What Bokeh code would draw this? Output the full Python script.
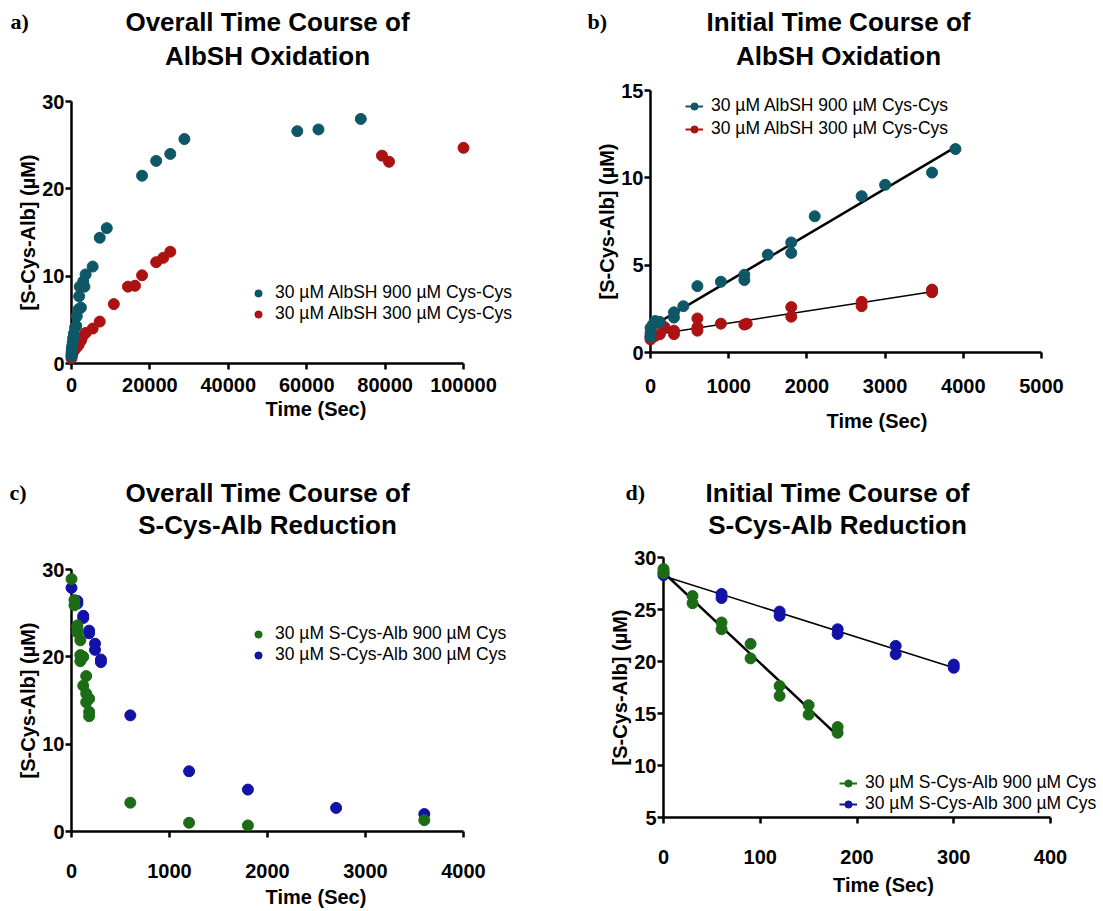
import numpy as np
from bokeh.plotting import figure
from bokeh.models import Range1d, FixedTicker, Legend, LegendItem, Label
from bokeh.layouts import column, row
from bokeh.embed import file_html
from bokeh.resources import INLINE

# ---------------- data ----------------
# a) overall time course of AlbSH oxidation
a_t_900 = [0, 0, 60, 120, 180, 300, 420, 600, 900, 1200, 1350, 1800, 2400, 1950, 2100, 3300, 3000, 3600,
           5400, 7200, 9000, 18000, 21600, 25200, 28800, 57600, 63000, 73800]
a_y_900 = [0.8, 1.1, 1.4, 1.7, 2.0, 2.4, 2.9, 3.4, 4.1, 4.3, 5.4, 6.2, 6.4, 7.7, 8.8, 8.8, 9.4, 10.2,
           11.1, 14.4, 15.5, 21.5, 23.2, 24.0, 25.7, 26.6, 26.8, 28.0]
a_t_300 = [0, 60, 300, 600, 1200, 1800, 2400, 2700, 3600, 5400, 7200, 10800, 14400, 16200, 18000,
           21600, 23400, 25200, 79200, 81000, 100000]
a_y_300 = [0.6, 0.9, 1.2, 1.5, 1.8, 2.1, 2.6, 3.0, 3.5, 4.0, 4.8, 6.8, 8.8, 8.9, 10.1,
           11.6, 12.1, 12.8, 23.8, 23.1, 24.7]

# b) initial time course of AlbSH oxidation
b_t_900 = [0, 0, 0, 30, 60, 90, 120, 300, 300, 420, 600, 900, 1200, 1200, 1500, 1800, 1800, 2100,
           2700, 3000, 3600, 3900]
b_y_900 = [0.9, 1.1, 1.4, 1.6, 1.8, 1.7, 1.75, 2.3, 2.0, 2.65, 3.8, 4.05, 4.45, 4.15, 5.6, 6.3, 5.7, 7.8,
           8.95, 9.6, 10.3, 11.65]
b_t_300 = [0, 0, 60, 120, 180, 300, 300, 600, 600, 600, 900, 1200, 1230, 1800, 1800, 2700, 2700, 3600, 3600]
b_y_300 = [0.75, 0.9, 0.95, 1.05, 1.45, 1.25, 1.05, 1.95, 1.45, 1.25, 1.65, 1.6, 1.65, 2.6, 2.05, 2.9, 2.65,
           3.6, 3.45]

# c) overall time course of S-Cys-Alb reduction
c_t_900 = [0, 30, 30, 60, 60, 60, 90, 90, 90, 120, 120, 150, 150, 150, 180, 180, 180, 600, 1200, 1800, 3600]
c_y_900 = [28.9, 26.5, 25.9, 23.6, 23.3, 22.8, 21.9, 20.2, 19.5, 20.0, 16.7, 17.8, 15.8, 14.8, 15.2, 13.7,
           13.2, 3.3, 1.0, 0.7, 1.3]
c_t_300 = [0, 60, 60, 120, 120, 180, 180, 240, 240, 300, 300, 600, 1200, 1800, 2700, 3600]
c_y_300 = [27.9, 26.4, 26.1, 24.7, 24.45, 23.0, 22.7, 21.5, 20.8, 19.7, 19.4, 13.3, 6.9, 4.8, 2.7, 2.0]

# d) initial time course of S-Cys-Alb reduction
d_t_900 = [0, 0, 30, 30, 60, 60, 90, 90, 120, 120, 150, 150, 180, 180]
d_y_900 = [28.9, 28.5, 26.3, 25.6, 23.75, 23.1, 21.7, 20.3, 17.65, 16.7, 15.8, 14.9, 13.7, 13.15]
d_t_300 = [0, 0, 60, 60, 120, 120, 180, 180, 240, 240, 300, 300]
d_y_300 = [28.6, 28.3, 26.5, 26.1, 24.8, 24.4, 23.1, 22.65, 21.5, 20.7, 19.7, 19.4]

# ticks
a_xticks = [0, 20000, 40000, 60000, 80000, 100000]
a_xlabels = ["0", "20000", "40000", "60000", "80000", "100000"]
a_yticks = [0, 10, 20, 30]
b_xticks = [0, 1000, 2000, 3000, 4000, 5000]
b_yticks = [0, 5, 10, 15]
c_xticks = [0, 1000, 2000, 3000, 4000]
c_yticks = [0, 10, 20, 30]
d_xticks = [0, 100, 200, 300, 400]
d_yticks = [5, 10, 15, 20, 25, 30]

lab_a_900 = "30 µM AlbSH 900 µM Cys-Cys"
lab_a_300 = "30 µM AlbSH 300 µM Cys-Cys"
lab_c_900 = "30 µM S-Cys-Alb 900 µM Cys"
lab_c_300 = "30 µM S-Cys-Alb 300 µM Cys"

titles_top = [("a)", "Overall Time Course of", "AlbSH Oxidation"),
              ("b)", "Initial Time Course of", "AlbSH Oxidation")]
titles_bottom = [("c)", "Overall Time Course of", "S-Cys-Alb Reduction"),
                 ("d)", "Initial Time Course of", "S-Cys-Alb Reduction")]

TEAL = "#0e5767"
RED = "#ad1212"
GREEN = "#1c6c15"
BLUE = "#1212a6"

FONT = "Liberation Sans"
SERIF = "Liberation Serif"
PAGE_W = 1103


def header(H, entries, letter_xs, title_cxs, y1, y2):
    h = figure(width=PAGE_W, height=H, x_range=Range1d(0, PAGE_W), y_range=Range1d(H, 0),
               x_axis_location=None, y_axis_location=None, output_backend="svg",
               toolbar_location=None, min_border=0)
    h.outline_line_color = None
    h.grid.visible = False
    for (letter, t1, t2), lx, cx in zip(entries, letter_xs, title_cxs):
        h.add_layout(Label(x=lx, y=y1, text=letter, text_font=SERIF, text_font_style="bold",
                           text_font_size="22px", text_align="left", text_baseline="middle",
                           text_color="black"))
        for txt, yy in ((t1, y1), (t2, y2)):
            h.add_layout(Label(x=cx, y=yy, text=txt, text_font=FONT, text_font_style="bold",
                               text_font_size="26px", text_align="center", text_baseline="middle",
                               text_color="black"))
    return h


def panel(W, H, fl, ft, fb, xmax, xmax_px, ylo, yhi, xticks, yticks, xstand, xlabstand):
    # frame runs from fl to the right edge; x axis drawn only over 0..xmax
    xr = (0, xmax * (W - fl) / (xmax_px - fl))
    p = figure(width=W, height=H, x_range=Range1d(*xr), y_range=Range1d(ylo, yhi),
               output_backend="svg", toolbar_location=None,
               min_border_left=fl, min_border_right=0, min_border_top=ft,
               min_border_bottom=H - fb,
               x_axis_label="Time (Sec)", y_axis_label="[S-Cys-Alb] (µM)")
    p.outline_line_color = None
    p.grid.visible = False
    for ax, ticks in ((p.xaxis[0], xticks), (p.yaxis[0], yticks)):
        ax.ticker = FixedTicker(ticks=ticks)
        ax.major_label_overrides = {t: str(t) for t in ticks}
        ax.axis_line_width = 2.5
        ax.axis_line_color = "black"
        ax.major_tick_line_width = 2.5
        ax.major_tick_line_color = "black"
        ax.major_tick_out = 6
        ax.major_tick_in = 0
        ax.minor_tick_out = 0
        ax.minor_tick_in = 0
        ax.major_label_text_font = FONT
        ax.major_label_text_font_style = "bold"
        ax.major_label_text_font_size = "20px"
        ax.major_label_text_color = "black"
        ax.axis_label_text_font = FONT
        ax.axis_label_text_font_style = "bold"
        ax.axis_label_text_font_size = "20px"
        ax.axis_label_text_color = "black"
    xa = p.xaxis[0]
    ya = p.yaxis[0]
    xa.bounds = (0, xmax)
    xa.major_label_standoff = xstand
    xa.axis_label_standoff = xlabstand
    ya.major_label_standoff = 1
    ya.axis_label_standoff = 0
    return p


def fit_line(p, t, y, width):
    t = np.asarray(t, float)
    y = np.asarray(y, float)
    k, b = np.polyfit(t, y, 1)
    xs = np.array([t.min(), t.max()])
    return p.line(xs, k * xs + b, line_color="black", line_width=width)


def pts(p, t, y, color):
    return p.scatter(t, y, marker="circle", size=11, fill_color=color, line_color=color, level="overlay")


def key_line(p, t, y, color):
    # single-point line: draws nothing in the plot, only its legend glyph
    return p.line(t[:1], y[:1], line_color=color, line_width=2)


def legend(p, items, loc, spacing):
    lg = Legend(items=items, location=loc, border_line_color=None, background_fill_alpha=0,
                padding=0, margin=0, spacing=spacing, label_standoff=8, glyph_width=18,
                glyph_height=18, label_height=18, label_text_font=FONT, label_text_font_size="17.5px",
                label_text_color="black")
    p.add_layout(lg)


# ---- headers ----
h1 = header(75, titles_top, [10, 587], [267, 838], 21, 55)
h2 = header(90, titles_bottom, [9, 625], [267, 837], 37, 69)

# ---- panel a ----
pa = panel(560, 380, 71, 26, 288, 100000, 463, 0, 30, a_xticks, a_yticks, 8, 3)
pa.xaxis[0].major_label_overrides = dict(zip(a_xticks, a_xlabels))
ra3 = pts(pa, a_t_300, a_y_300, RED)
ra9 = pts(pa, a_t_900, a_y_900, TEAL)
legend(pa, [LegendItem(label=lab_a_900, renderers=[ra9]), LegendItem(label=lab_a_300, renderers=[ra3])],
       (178, 39), 0)

# ---- panel b ----
pb = panel(543, 380, 90, 15, 277, 5000, 481, 0, 15, b_xticks, b_yticks, 20, 14)
fit_line(pb, b_t_900, b_y_900, 2.5)
fit_line(pb, b_t_300, b_y_300, 1.5)
rb3 = pts(pb, b_t_300, b_y_300, RED)
rb9 = pts(pb, b_t_900, b_y_900, TEAL)
lb9 = key_line(pb, b_t_900, b_y_900, TEAL)
lb3 = key_line(pb, b_t_300, b_y_300, RED)
legend(pb, [LegendItem(label=lab_a_900, renderers=[lb9, rb9]),
            LegendItem(label=lab_a_300, renderers=[lb3, rb3])], (35, 213), 2)

# ---- panel c ----
pc = panel(560, 366, 71, 24, 286, 4000, 463, 0, 30, c_xticks, c_yticks, 26, 5)
rc3 = pts(pc, c_t_300, c_y_300, BLUE)
rc9 = pts(pc, c_t_900, c_y_900, GREEN)
legend(pc, [LegendItem(label=lab_c_900, renderers=[rc9]), LegendItem(label=lab_c_300, renderers=[rc3])],
       (178, 166), 0)

# ---- panel d ----
pd_ = panel(543, 366, 103, 12, 272, 400, 490, 5, 30, d_xticks, d_yticks, 26, 7)
fit_line(pd_, d_t_900, d_y_900, 2.5)
fit_line(pd_, d_t_300, d_y_300, 1.5)
rd3 = pts(pd_, d_t_300, d_y_300, BLUE)
rd9 = pts(pd_, d_t_900, d_y_900, GREEN)
ld9 = key_line(pd_, d_t_900, d_y_900, GREEN)
ld3 = key_line(pd_, d_t_300, d_y_300, BLUE)
legend(pd_, [LegendItem(label=lab_c_900, renderers=[ld9, rd9]),
             LegendItem(label=lab_c_300, renderers=[ld3, rd3])], (176, 3), 0)

layout = column(h1, row(column(pa), column(pb)), h2, row(column(pc), column(pd_)))
open("out.html", "w").write(file_html(layout, INLINE))
